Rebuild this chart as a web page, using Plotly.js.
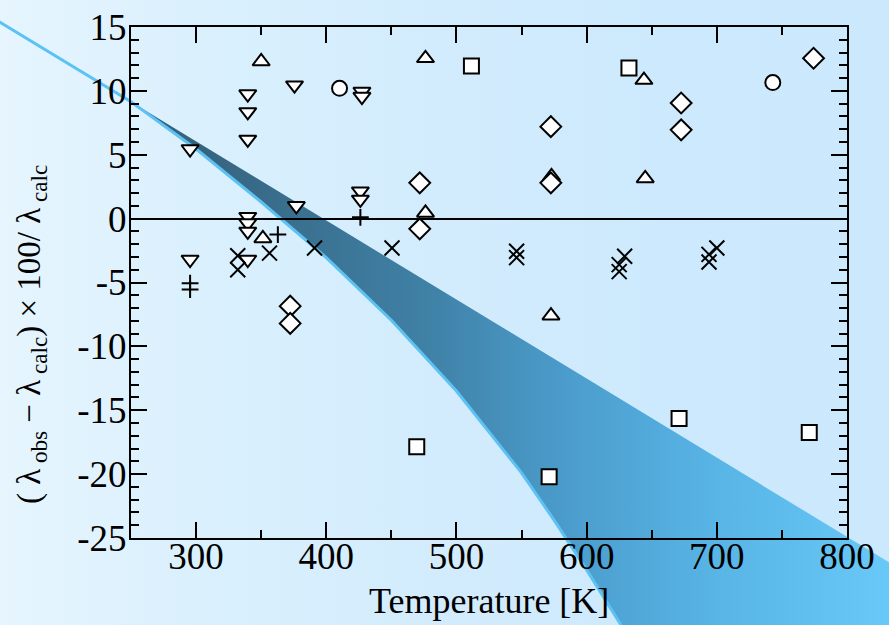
<!DOCTYPE html>
<html>
<head>
<meta charset="utf-8">
<script src="https://cdn.plot.ly/plotly-3.0.1.min.js"></script>
<style>
  html, body { margin: 0; padding: 0; }
  body { width: 889px; height: 625px; overflow: hidden;
         background: linear-gradient(90deg, #e6f5fe 0%, #daf0fd 22%, #d2ecfd 50%, #cde9fd 75%, #cbe8fd 100%); }
  #chart { width: 889px; height: 625px; }
</style>
</head>
<body>
<div id="chart"></div>
<script>
// ---------- data ----------
const triDownX = [295.4, 339.7, 339.7, 339.7, 375.6, 427.4, 427.4, 426.2, 426.2, 377.0, 339.7, 339.7, 339.7, 339.7, 295.4];
const triDownY = [5.45, 9.75, 8.35, 6.2, 10.45, 9.95, 9.55, 2.15, 1.5, 1.0, 0.15, -0.35, -1.0, -3.2, -3.2];

const triUpX = [350.0, 351.3, 476.2, 476.2, 573.0, 644.0, 645.0, 572.6];
const triUpY = [12.3, -1.55, 12.55, 0.45, 3.3, 10.85, 3.15, -7.6];

const diamondX = [471.8, 471.8, 572.5, 572.5, 672.6, 672.6, 774.3, 372.3, 372.3];
const diamondY = [2.8, -0.8, 7.2, 2.8, 9.05, 6.95, 12.55, -6.85, -8.2];

const squareX = [511.5, 632.5, 571.2, 671.0, 771.0, 469.5];
const squareY = [11.95, 11.8, -20.2, -15.65, -16.75, -17.85];

const circleX = [410.2, 743.0];
const circleY = [10.2, 10.65];

const crossX = [332.0, 332.0, 356.4, 391.0, 450.5, 546.2, 546.2, 629.2, 625.0, 625.0, 700.0, 694.0, 694.0];
const crossY = [-2.9, -4.0, -2.7, -2.3, -2.3, -2.55, -3.05, -2.95, -3.6, -4.15, -2.3, -2.8, -3.4];

const plusX = [295.4, 295.4, 362.8, 426.2];
const plusY = [-5.05, -5.55, -1.25, 0.1];

// model band (upper and lower bounds)
const bandUpperX = [140, 250, 300, 350, 400, 450, 500, 550, 600, 650, 700, 750, 800, 850];
const bandUpperY = [15.95, 9.15, 6.05, 2.96, -0.14, -3.23, -6.33, -9.42, -12.52, -15.61, -18.71, -21.8, -24.9, -28.0];
const bandLowerX = [140, 250, 300, 350, 400, 450, 500, 550, 575, 600, 630, 650];
const bandLowerY = [15.95, 9.15, 5.45, 1.3, -3.05, -7.95, -13.5, -19.9, -23.6, -27.5, -32.4, -35.6];

// axis ticks
const xTickVals = [300, 400, 500, 600, 700, 800];
const xTickText = ['300', '400', '500', '600', '700', '800'];
const yTickVals = [15, 10, 5, 0, -5, -10, -15, -20, -25];
const yTickText = ['15', '10', '5', '0', '-5', '-10', '-15', '-20', '-25'];

// ---------- layout geometry ----------
const W = 889, H = 625;
const L = 131, R = 847, T = 27, B = 538;
const xRange = [250, 800], yRange = [-25, 15];
const kx = (R - L) / (xRange[1] - xRange[0]);
const ky = (B - T) / (yRange[1] - yRange[0]);
const fullX = [xRange[0] - L / kx, xRange[1] + (W - R) / kx];
const fullY = [yRange[0] - (H - B) / ky, yRange[1] + T / ky];

// closed polygon for the band: upper edge left->right, then lower edge right->left
const lastUpperX = bandUpperX[bandUpperX.length - 1];
const minLowerY = Math.min(...bandLowerY) - 5;
const polyX = bandUpperX.concat([lastUpperX], bandLowerX.slice().reverse());
const polyY = bandUpperY.concat([minLowerY], bandLowerY.slice().reverse());

const mk = (sym, size, extra) => Object.assign({
  symbol: sym, size: size, color: 'white',
  line: { color: 'black', width: 2 }
}, extra || {});

const SERIF = '"Liberation Serif", "Times New Roman", Times, serif';

const traces = [
  { x: polyX, y: polyY, xaxis: 'x', yaxis: 'y', mode: 'lines', fill: 'toself',
    line: { width: 0, color: 'rgba(0,0,0,0)' },
    fillgradient: { type: 'horizontal',
      colorscale: [[0, '#2f586f'], [0.225, '#36637e'], [0.47, '#3f80a5'], [0.63, '#4b9dcd'], [0.79, '#58b5e6'], [1, '#6bcbfa']] },
    hoverinfo: 'skip', showlegend: false },
  { x: bandLowerX, y: bandLowerY, xaxis: 'x', yaxis: 'y', mode: 'lines',
    line: { color: '#5cc2f3', width: 3 }, hoverinfo: 'skip', showlegend: false },

  { x: triDownX, y: triDownY, xaxis: 'x2', yaxis: 'y2', mode: 'markers', marker: mk('triangle-down', 15), showlegend: false },
  { x: triUpX, y: triUpY, xaxis: 'x2', yaxis: 'y2', mode: 'markers', marker: mk('triangle-up', 15), showlegend: false },
  { x: diamondX, y: diamondY, xaxis: 'x2', yaxis: 'y2', mode: 'markers', marker: mk('diamond', 16), showlegend: false },
  { x: squareX, y: squareY, xaxis: 'x2', yaxis: 'y2', mode: 'markers', marker: mk('square', 15), showlegend: false },
  { x: circleX, y: circleY, xaxis: 'x2', yaxis: 'y2', mode: 'markers', marker: mk('circle', 15), showlegend: false },
  { x: crossX, y: crossY, xaxis: 'x2', yaxis: 'y2', mode: 'markers',
    marker: { symbol: 'x-thin', size: 15, color: 'black', line: { color: 'black', width: 2 } }, showlegend: false },
  { x: plusX, y: plusY, xaxis: 'x2', yaxis: 'y2', mode: 'markers',
    marker: { symbol: 'cross-thin', size: 12, color: 'black', line: { color: 'black', width: 2 } }, showlegend: false }
];

const axisCommon = {
  showline: true, linecolor: 'black', linewidth: 2, mirror: 'allticks',
  ticks: 'inside', ticklen: 16, tickwidth: 2, tickcolor: 'black',
  showgrid: false, tickmode: 'array', fixedrange: true
};

const layout = {
  width: W, height: H,
  margin: { l: 0, r: 0, t: 0, b: 0, pad: 0 },
  paper_bgcolor: 'rgba(0,0,0,0)', plot_bgcolor: 'rgba(0,0,0,0)',
  font: { family: SERIF, color: 'black', size: 37 },
  showlegend: false,
  xaxis: { domain: [0, 1], range: fullX, visible: false, fixedrange: true },
  yaxis: { domain: [0, 1], range: fullY, visible: false, fixedrange: true },
  xaxis2: Object.assign({}, axisCommon, {
    anchor: 'y2', domain: [L / W, R / W], range: xRange,
    tickvals: xTickVals, ticktext: xTickText, zeroline: false,
    tickfont: { family: SERIF, size: 37, color: 'black' },
    ticklabelstandoff: -15,
    minor: { ticks: 'inside', ticklen: 8, tickwidth: 2, tickcolor: 'black', dtick: 50, tick0: 0, showgrid: false }
  }),
  yaxis2: Object.assign({}, axisCommon, {
    anchor: 'x2', domain: [(H - B) / H, (H - T) / H], range: yRange,
    tickvals: yTickVals, ticktext: yTickText,
    tickfont: { family: SERIF, size: 37, color: 'black' },
    ticklabelstandoff: -5,
    zeroline: true, zerolinecolor: 'black', zerolinewidth: 2,
    minor: { ticks: 'inside', ticklen: 8, tickwidth: 2, tickcolor: 'black', dtick: 1, tick0: 0, showgrid: false }
  }),
  annotations: [
    { text: 'Temperature [K]', xref: 'paper', yref: 'paper', x: 489 / W, y: 1 - 601 / H,
      xanchor: 'center', yanchor: 'middle', showarrow: false,
      font: { family: SERIF, size: 36, color: 'black' } },
    { text: '( λ<sub> obs</sub> − λ<sub> calc</sub>) × 100/ λ<sub> calc</sub>', xref: 'paper', yref: 'paper',
      x: 31 / W, y: 1 - 335 / H, xanchor: 'center', yanchor: 'middle', textangle: -90, showarrow: false,
      font: { family: SERIF, size: 33, color: 'black' } }
  ]
};

Plotly.newPlot('chart', traces, layout, { displayModeBar: false, staticPlot: true });
</script>
</body>
</html>
